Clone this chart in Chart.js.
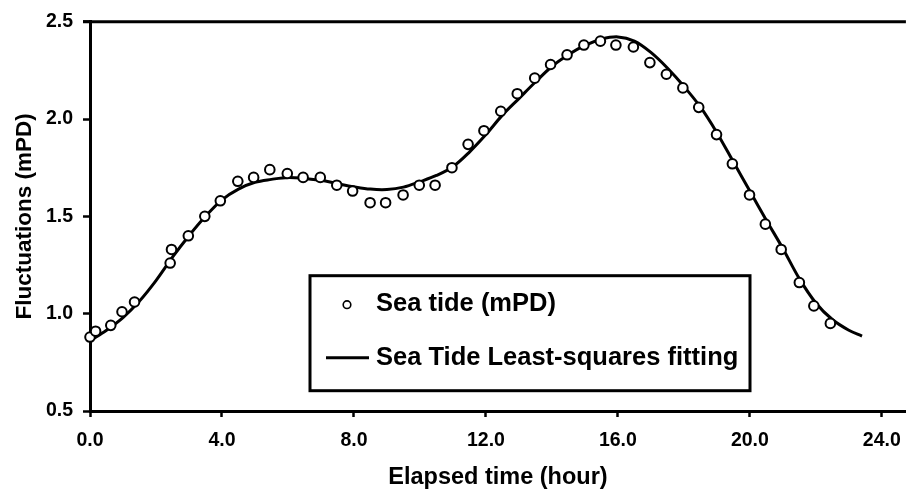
<!DOCTYPE html>
<html>
<head>
<meta charset="utf-8">
<script src="https://cdn.jsdelivr.net/npm/chart.js@4/dist/chart.umd.min.js"></script>
<style>
  html, body { margin: 0; padding: 0; background: #fff; }
  #wrap { width: 913px; height: 493px; }
</style>
</head>
<body>
<div id="wrap"><canvas id="c" width="913" height="493"></canvas></div>
<script>
// ---- Data ----
const obsHours = [0.0, 0.17, 0.63, 0.97, 1.35, 2.43, 2.47, 2.98, 3.48, 3.95, 4.48, 4.96, 5.45, 5.98, 6.46, 6.98, 7.48, 7.96, 8.49, 8.96, 9.49, 9.98, 10.46, 10.97, 11.46, 11.94, 12.45, 12.95, 13.48, 13.96, 14.46, 14.97, 15.47, 15.94, 16.47, 16.97, 17.47, 17.97, 18.45, 18.99, 19.47, 19.99, 20.47, 20.95, 21.5, 21.94, 22.44];
const obsTide = [0.88, 0.91, 0.94, 1.01, 1.06, 1.26, 1.33, 1.40, 1.50, 1.58, 1.68, 1.70, 1.74, 1.72, 1.70, 1.70, 1.66, 1.63, 1.57, 1.57, 1.61, 1.66, 1.66, 1.75, 1.87, 1.94, 2.04, 2.13, 2.21, 2.28, 2.33, 2.38, 2.40, 2.38, 2.37, 2.29, 2.23, 2.16, 2.06, 1.92, 1.77, 1.61, 1.46, 1.33, 1.16, 1.04, 0.95];

const fitHours = [0, 0.5, 1, 1.5, 2, 2.5, 3, 3.5, 4, 4.5, 5, 5.5, 6, 6.5, 7, 7.5, 8, 8.5, 9, 9.5, 10, 10.5, 11, 11.5, 12, 12.5, 13, 13.5, 14, 14.5, 15, 15.5, 16, 16.5, 17, 17.5, 18, 18.5, 19, 19.5, 20, 20.5, 21, 21.5, 22, 22.5, 23, 23.4];
const fitTide = [0.86, 0.915, 0.98, 1.065, 1.17, 1.29, 1.40, 1.50, 1.585, 1.64, 1.675, 1.69, 1.70, 1.695, 1.685, 1.668, 1.652, 1.64, 1.638, 1.65, 1.678, 1.71, 1.755, 1.83, 1.92, 2.02, 2.105, 2.19, 2.27, 2.33, 2.378, 2.41, 2.422, 2.40, 2.342, 2.262, 2.168, 2.062, 1.93, 1.78, 1.63, 1.48, 1.335, 1.18, 1.055, 0.97, 0.915, 0.885];

const xTicks = [0, 4, 8, 12, 16, 20, 24];
const xTickLabels = ["0.0", "4.0", "8.0", "12.0", "16.0", "20.0", "24.0"];
const yTicks = [0.5, 1.0, 1.5, 2.0, 2.5];
const yTickLabels = ["0.5", "1.0", "1.5", "2.0", "2.5"];

const seriesNames = ["Sea tide (mPD)", "Sea Tide Least-squares fitting"];
const xTitle = "Elapsed time (hour)";
const yTitle = "Fluctuations (mPD)";

// ---- Chart ----
const FONT = "'Liberation Sans', Arial, Helvetica, sans-serif";

const topLinePlugin = {
  id: 'topLine',
  afterDraw(chart) {
    const {ctx, chartArea: a} = chart;
    ctx.save();
    ctx.strokeStyle = '#000';
    ctx.lineWidth = 3;
    ctx.beginPath();
    ctx.moveTo(a.left - 7, a.top);
    ctx.lineTo(a.right, a.top);
    ctx.stroke();
    ctx.restore();
  }
};

const boxLegendPlugin = {
  id: 'boxLegend',
  afterDatasetsDraw(chart) {
    const {ctx, chartArea: a} = chart;
    const bx = a.left + 220, by = a.top + 254, bw = 440, bh = 115;
    ctx.save();
    ctx.fillStyle = '#fff';
    ctx.fillRect(bx, by, bw, bh);
    ctx.strokeStyle = '#000';
    ctx.lineWidth = 3;
    ctx.strokeRect(bx, by, bw, bh);

    ctx.font = "bold 25.5px " + FONT;
    ctx.fillStyle = '#000';
    ctx.textBaseline = 'middle';
    ctx.textAlign = 'left';
    const textX = bx + 66;
    const r1 = by + 28, r2 = by + 82;
    // marker row
    ctx.beginPath();
    ctx.lineWidth = 1.6;
    ctx.arc(bx + 37, r1 + 1, 3.8, 0, Math.PI * 2);
    ctx.fillStyle = '#fff';
    ctx.fill();
    ctx.stroke();
    ctx.fillStyle = '#000';
    ctx.fillText(chart.data.datasets[0].label, textX, r1);
    // line row
    ctx.beginPath();
    ctx.lineWidth = 3;
    ctx.moveTo(bx + 16, r2);
    ctx.lineTo(bx + 59, r2);
    ctx.stroke();
    ctx.fillText(chart.data.datasets[1].label, textX, r2);
    ctx.restore();
  }
};

new Chart(document.getElementById('c'), {
  type: 'scatter',
  data: {
    datasets: [
      {
        label: seriesNames[0],
        data: obsHours.map((h, i) => ({x: h, y: obsTide[i]})),
        showLine: false,
        pointStyle: 'circle',
        pointRadius: 4.8,
        pointBorderWidth: 2,
        pointBackgroundColor: '#fff',
        pointBorderColor: '#000',
        clip: false,
        order: 0
      },
      {
        label: seriesNames[1],
        data: fitHours.map((h, i) => ({x: h, y: fitTide[i]})),
        showLine: true,
        borderColor: '#000',
        borderWidth: 3,
        pointRadius: 0,
        tension: 0.35,
        clip: false,
        order: 1
      }
    ]
  },
  options: {
    responsive: false,
    devicePixelRatio: 1,
    animation: false,
    layout: { padding: { top: 16, right: 0, bottom: 0, left: 0 } },
    plugins: {
      legend: { display: false },
      tooltip: { enabled: false }
    },
    scales: {
      x: {
        type: 'linear',
        position: 'bottom',
        min: 0,
        max: 24.73,
        afterBuildTicks: s => { s.ticks = xTicks.map(v => ({value: v})); },
        afterFit: s => { s.height = 82; },
        ticks: {
          callback: (v) => { const i = xTicks.indexOf(v); return i >= 0 ? xTickLabels[i] : ''; },
          font: { family: FONT, size: 19.5, weight: 'bold' },
          color: '#000',
          padding: 12,
          maxRotation: 0,
          autoSkip: false
        },
        grid: { display: true, drawOnChartArea: false, drawTicks: true, tickLength: 6, tickWidth: 2.5, color: '#000' },
        border: { display: true, width: 3, color: '#000' },
        title: {
          display: true,
          text: xTitle,
          font: { family: FONT, size: 23.5, weight: 'bold' },
          color: '#000',
          padding: { top: 0, bottom: 1 }
        }
      },
      y: {
        type: 'linear',
        position: 'left',
        min: 0.5,
        max: 2.5,
        afterBuildTicks: s => { s.ticks = yTicks.map(v => ({value: v})); },
        afterFit: s => { s.width = 90; },
        ticks: {
          callback: (v) => { const i = yTicks.findIndex(t => Math.abs(t - v) < 1e-9); return i >= 0 ? yTickLabels[i] : ''; },
          font: { family: FONT, size: 19.5, weight: 'bold' },
          color: '#000',
          padding: 10
        },
        grid: { display: true, drawOnChartArea: false, drawTicks: true, tickLength: 7, tickWidth: 2.5, color: '#000' },
        border: { display: true, width: 3, color: '#000' },
        title: {
          display: true,
          text: yTitle,
          font: { family: FONT, size: 22.5, weight: 'bold' },
          color: '#000',
          padding: { top: 11, bottom: 0 }
        }
      }
    }
  },
  plugins: [topLinePlugin, boxLegendPlugin]
});
</script>
</body>
</html>
